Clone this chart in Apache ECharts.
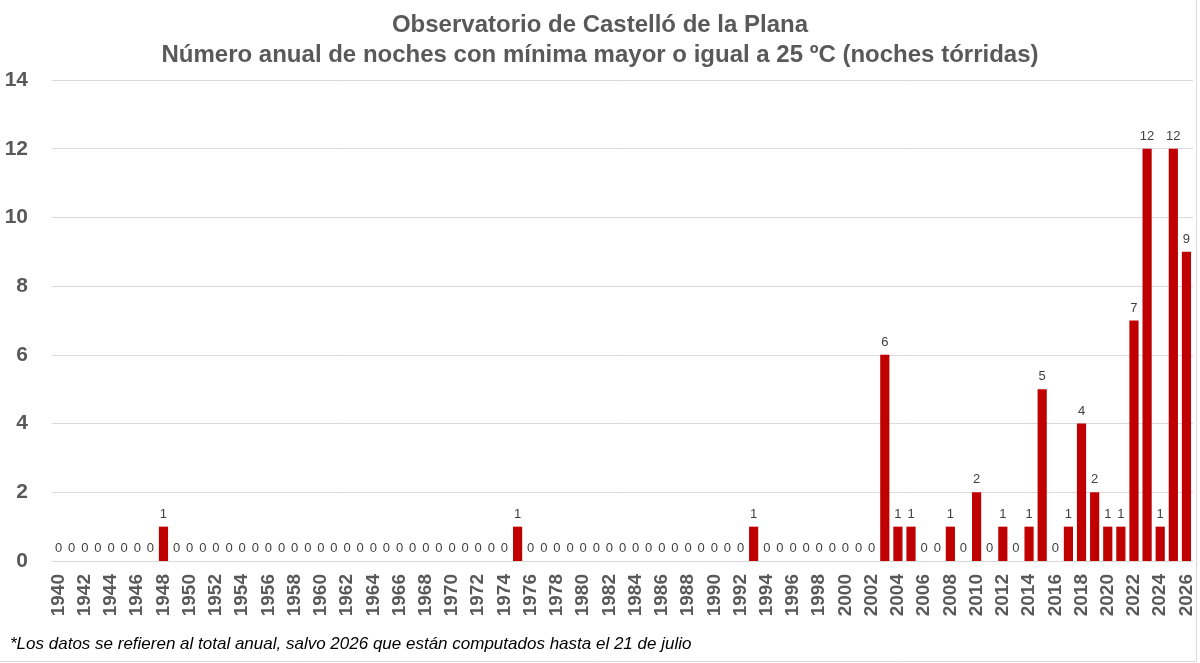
<!DOCTYPE html>
<html>
<head>
<meta charset="utf-8">
<script src="https://cdn.jsdelivr.net/npm/echarts@6/dist/echarts.min.js"></script>
<style>html,body{margin:0;padding:0;background:#fff;}#c{width:1200px;height:663px;}</style>
</head>
<body>
<div id="c"></div>
<script>
const years = [];
for (let y = 1940; y <= 2026; y++) years.push(String(y));
// values per year 1940..2026
const nights = [
  0,0,0,0,0,0,0,0,1,0,          // 1940-1949
  0,0,0,0,0,0,0,0,0,0,          // 1950-1959
  0,0,0,0,0,0,0,0,0,0,          // 1960-1969
  0,0,0,0,0,1,0,0,0,0,          // 1970-1979
  0,0,0,0,0,0,0,0,0,0,          // 1980-1989
  0,0,0,1,0,0,0,0,0,0,          // 1990-1999
  0,0,0,6,1,1,0,0,1,0,          // 2000-2009
  2,0,1,0,1,5,0,1,4,2,          // 2010-2019
  1,1,7,12,1,12,9               // 2020-2026
];
const yTicks = [0,2,4,6,8,10,12,14];
const titleLines = ['Observatorio de Castelló de la Plana','Número anual de noches con mínima mayor o igual a 25 ºC (noches tórridas)'];
const footnote = '*Los datos se refieren al total anual, salvo 2026 que están computados hasta el 21 de julio';

const chart = echarts.init(document.getElementById('c'));
chart.setOption({
  animation: false,
  backgroundColor: '#fff',
  title: {
    text: titleLines.join('\n'),
    left: 'center', top: 5,
    textStyle: {fontFamily: 'Liberation Sans', fontWeight: 'bold', fontSize: 24, color: '#595959', lineHeight: 30}
  },
  grid: {left: 52, right: 7, top: 80, bottom: 102, containLabel: false},
  xAxis: {
    type: 'category', data: years,
    axisLine: {lineStyle: {color: '#d9d9d9'}},
    axisTick: {show: false},
    axisLabel: {interval: 1, rotate: 90, fontFamily: 'Liberation Sans', fontWeight: 'bold', fontSize: 19, color: '#595959', margin: 13}
  },
  yAxis: {
    type: 'value', min: yTicks[0], max: yTicks[yTicks.length-1], interval: 2,
    axisLine: {show: false}, axisTick: {show: false},
    splitLine: {lineStyle: {color: '#d9d9d9'}},
    axisLabel: {fontFamily: 'Liberation Sans', fontWeight: 'bold', fontSize: 21, color: '#595959', margin: 24}
  },
  series: [{
    type: 'bar', data: nights, barWidth: '70%',
    itemStyle: {color: '#C00000'},
    label: {show: true, position: 'top', distance: 6, fontFamily: 'Liberation Sans', fontSize: 13, color: '#404040'}
  }],
  graphic: [
    {type: 'text', left: 10, top: 636, style: {text: footnote, font: 'italic 17px "Liberation Sans"', fill: '#000'}},
    {type: 'line', shape: {x1: 0, y1: 661.5, x2: 1196.5, y2: 661.5}, style: {stroke: '#d9d9d9', lineWidth: 1}},
    {type: 'line', shape: {x1: 1196.5, y1: 0, x2: 1196.5, y2: 661.5}, style: {stroke: '#d9d9d9', lineWidth: 1}}
  ]
});
</script>
</body>
</html>
